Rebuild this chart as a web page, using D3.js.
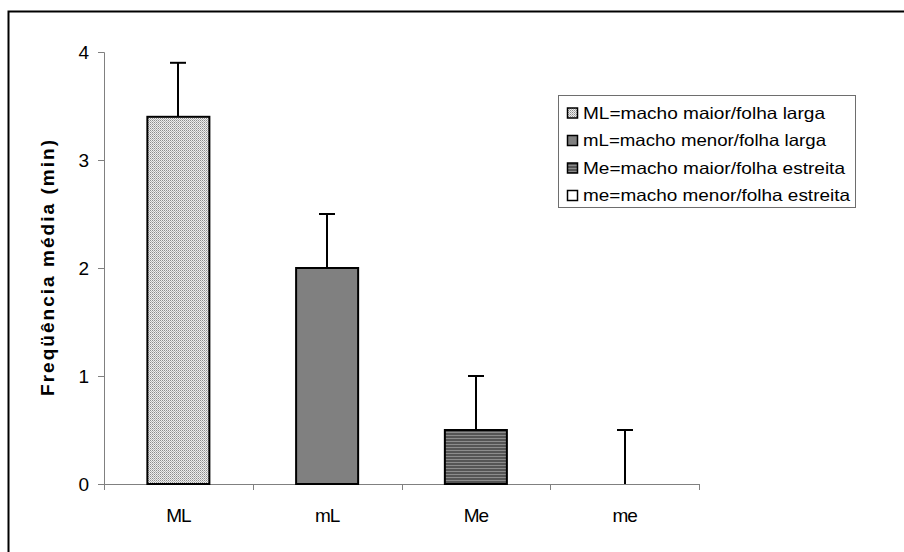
<!DOCTYPE html>
<html>
<head>
<meta charset="utf-8">
<script src="https://cdn.jsdelivr.net/npm/d3@7"></script>
<style>
  html, body { margin: 0; padding: 0; background: #fff; }
  svg { display: block; }
  text { font-family: "Liberation Sans", Arial, sans-serif; }
</style>
</head>
<body>
<svg id="chart" width="904" height="552"></svg>
<script>
// ---- data ----
const categories = ["ML", "mL", "Me", "me"];
const means = [3.4, 2.0, 0.5, 0.0];
const errors = [0.5, 0.5, 0.5, 0.5];
const yTicks = [0, 1, 2, 3, 4];
const legendLabels = [
  "ML=macho maior/folha larga",
  "mL=macho menor/folha larga",
  "Me=macho maior/folha estreita",
  "me=macho menor/folha estreita"
];
const yLabel = "Freqüência média (min)";

const svg = d3.select("#chart");

// patterns
const defs = svg.append("defs");
const p1 = defs.append("pattern").attr("id", "patML").attr("patternUnits", "userSpaceOnUse")
  .attr("width", 2).attr("height", 2);
p1.append("rect").attr("width", 2).attr("height", 2).attr("fill", "#eeeeee");
p1.append("rect").attr("x", 0).attr("y", 0).attr("width", 1).attr("height", 1).attr("fill", "#8c8c8c");
p1.append("rect").attr("x", 1).attr("y", 1).attr("width", 1).attr("height", 1).attr("fill", "#b4b4b4");
const p3 = defs.append("pattern").attr("id", "patMe").attr("patternUnits", "userSpaceOnUse")
  .attr("width", 4).attr("height", 3);
p3.append("rect").attr("width", 4).attr("height", 3).attr("fill", "#555555");
p3.append("rect").attr("y", 0).attr("width", 4).attr("height", 1).attr("fill", "#8c8c8c");
const fills = ["url(#patML)", "#808080", "url(#patMe)", "#ffffff"];

// frame
svg.append("rect").attr("x", 8.5).attr("y", 11.5).attr("width", 1000).attr("height", 1000)
  .attr("fill", "none").attr("stroke", "#000").attr("stroke-width", 2);

// scales
const x = d3.scaleBand().domain(categories).range([104, 699])
  .paddingInner(0.583).paddingOuter(0.2915);
const y = d3.scaleLinear().domain([0, 4]).range([484, 52]);

// y axis
const yAxis = svg.append("g").attr("transform", "translate(104,0)")
  .call(d3.axisLeft(y).tickValues(yTicks).tickFormat(d3.format("d")).tickSize(6).tickPadding(9));
yAxis.select(".domain").attr("stroke", "#808080");
yAxis.selectAll(".tick line").attr("stroke", "#808080");
yAxis.selectAll("text").attr("font-size", 19).attr("fill", "#000");

// x axis labels
const xAxis = svg.append("g").attr("transform", "translate(0,484)")
  .call(d3.axisBottom(x).tickSize(0).tickPadding(25));
xAxis.select(".domain").remove();
xAxis.selectAll("text").attr("font-size", 19).attr("fill", "#000").attr("letter-spacing", -1);

// x axis line and boundary ticks
const step = x.step();
const bounds = categories.map(c => x(c) - step * x.paddingInner() / 2).concat([x.range()[1]]);
bounds[0] = x.range()[0];
svg.append("line").attr("x1", x.range()[0]).attr("x2", x.range()[1])
  .attr("y1", y(0) + 0.5).attr("y2", y(0) + 0.5).attr("stroke", "#808080");
svg.selectAll(".xt").data(bounds).enter().append("line")
  .attr("x1", d => Math.round(d) + 0.5).attr("x2", d => Math.round(d) + 0.5)
  .attr("y1", y(0)).attr("y2", y(0) + 6).attr("stroke", "#808080");

// error bars
const eb = svg.append("g");
categories.forEach((c, i) => {
  const cx = Math.round(x(c) + x.bandwidth() / 2);
  eb.append("line").attr("x1", cx).attr("x2", cx)
    .attr("y1", y(means[i])).attr("y2", y(means[i] + errors[i]))
    .attr("stroke", "#000").attr("stroke-width", 2);
  eb.append("line").attr("x1", cx - 8).attr("x2", cx + 8)
    .attr("y1", y(means[i] + errors[i])).attr("y2", y(means[i] + errors[i]))
    .attr("stroke", "#000").attr("stroke-width", 2);
});

// bars
svg.selectAll(".bar").data(categories).enter().filter((d, i) => means[i] > 0)
  .append("rect")
  .attr("x", d => x(d))
  .attr("y", d => y(means[categories.indexOf(d)]))
  .attr("width", x.bandwidth())
  .attr("height", d => y(0) - y(means[categories.indexOf(d)]))
  .attr("fill", d => fills[categories.indexOf(d)])
  .attr("stroke", "#000").attr("stroke-width", 2);

// y label
svg.append("text")
  .attr("transform", `translate(54,${(y(0) + y(4)) / 2}) rotate(-90)`)
  .attr("text-anchor", "middle")
  .attr("font-size", 19).attr("font-weight", "bold")
  .attr("textLength", 256).attr("lengthAdjust", "spacing")
  .text(yLabel);

// legend
const lg = svg.append("g");
lg.append("rect").attr("x", 558.5).attr("y", 95.5).attr("width", 297).attr("height", 112)
  .attr("fill", "#fff").attr("stroke", "#6e6e6e").attr("stroke-width", 1);
const legendWidths = [242, 243, 262, 267];
legendLabels.forEach((t, i) => {
  const by = 118.5 + i * 27.5;
  lg.append("rect").attr("x", 567.5).attr("y", by - 10.5).attr("width", 10).attr("height", 10)
    .attr("fill", fills[i]).attr("stroke", "#000").attr("stroke-width", 1.5);
  lg.append("text").attr("x", 583).attr("y", by)
    .attr("font-size", 16.5)
    .attr("textLength", legendWidths[i]).attr("lengthAdjust", "spacingAndGlyphs")
    .text(t);
});
</script>
</body>
</html>
